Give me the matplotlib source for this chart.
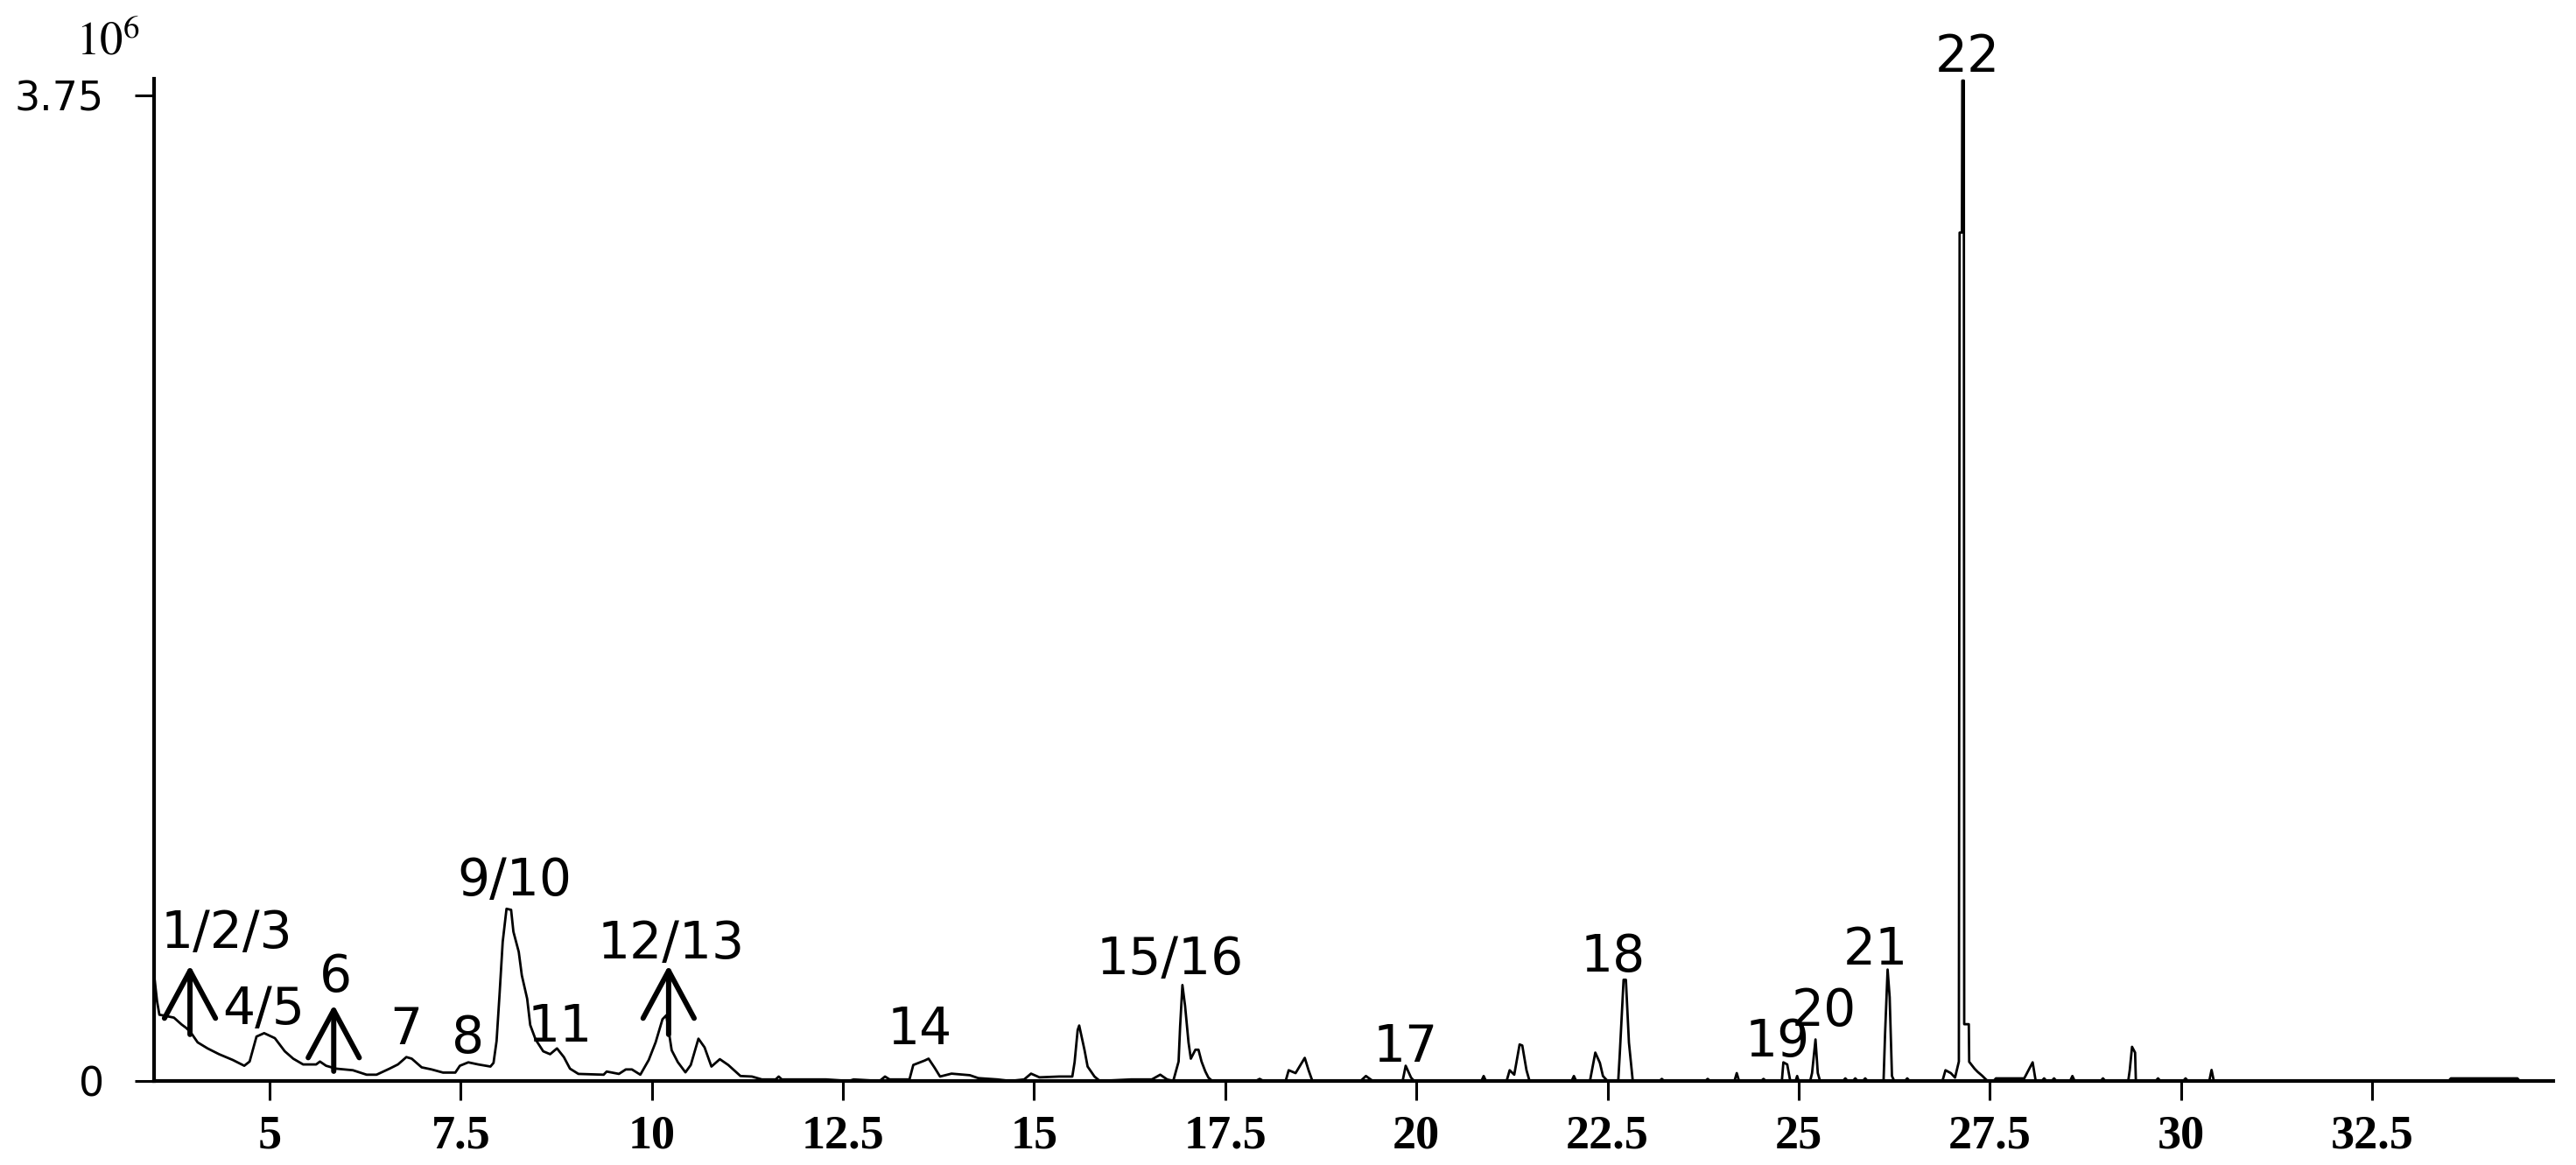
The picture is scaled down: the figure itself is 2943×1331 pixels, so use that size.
import numpy as np
import matplotlib
matplotlib.use("Agg")
import matplotlib.pyplot as plt

plt.rcParams["mathtext.fontset"] = "stix"

# chromatogram trace, (retention time in min, abundance in 1e6)
trace_early = [
    (3.50, 0.380), (3.53, 0.302), (3.56, 0.252), (3.60, 0.250), (3.75, 0.241),
    (3.85, 0.215), (3.91, 0.202), (3.97, 0.185), (4.06, 0.147), (4.19, 0.124),
    (4.34, 0.102), (4.52, 0.080), (4.67, 0.058), (4.74, 0.074), (4.83, 0.169),
    (4.93, 0.182), (5.07, 0.163), (5.20, 0.113), (5.31, 0.085), (5.44, 0.063),
    (5.61, 0.063), (5.66, 0.074), (5.74, 0.058), (5.87, 0.047), (6.09, 0.041),
    (6.27, 0.024), (6.40, 0.024), (6.57, 0.047), (6.68, 0.063), (6.79, 0.091),
    (6.86, 0.085), (6.99, 0.052), (7.12, 0.044), (7.27, 0.032), (7.43, 0.032),
    (7.49, 0.058), (7.60, 0.071), (7.73, 0.063), (7.89, 0.055), (7.93, 0.069),
    (7.97, 0.152), (8.01, 0.335), (8.05, 0.529), (8.10, 0.655), (8.16, 0.651),
    (8.19, 0.568), (8.26, 0.491), (8.30, 0.402), (8.37, 0.313), (8.41, 0.213),
    (8.48, 0.158), (8.58, 0.113), (8.67, 0.102), (8.76, 0.124), (8.85, 0.091),
    (8.93, 0.047), (9.04, 0.027), (9.37, 0.024), (9.41, 0.036), (9.57, 0.027),
    (9.66, 0.044), (9.74, 0.044), (9.85, 0.024), (9.96, 0.080), (10.05, 0.147),
    (10.14, 0.235),
]
trace_mid = [
    (10.19, 0.250), (10.26, 0.117), (10.34, 0.072), (10.44, 0.033), (10.51, 0.061),
    (10.61, 0.161), (10.69, 0.128), (10.78, 0.055), (10.89, 0.083), (11.00, 0.061),
    (11.16, 0.019), (11.31, 0.017), (11.44, 0.006), (11.62, 0.006), (11.66, 0.017),
    (11.70, 0.006), (12.28, 0.006), (12.58, 0.0), (12.64, 0.006), (12.98, 0.0),
    (13.05, 0.017), (13.11, 0.006), (13.37, 0.006), (13.42, 0.061), (13.57, 0.078),
    (13.62, 0.085), (13.70, 0.050), (13.77, 0.017), (13.92, 0.028), (14.16, 0.022),
    (14.27, 0.011), (14.52, 0.006), (14.69, 0.0), (14.87, 0.006), (14.96, 0.028),
    (15.07, 0.014), (15.33, 0.017), (15.50, 0.017), (15.53, 0.072), (15.57, 0.194),
    (15.59, 0.211), (15.66, 0.117), (15.70, 0.055), (15.79, 0.017), (15.86, 0.0),
    (16.27, 0.006), (16.54, 0.006), (16.65, 0.024), (16.74, 0.006),
]
trace_late = [
    (16.82, 0.0), (16.89, 0.074), (16.91, 0.208), (16.94, 0.365), (16.975, 0.285),
    (17.02, 0.146), (17.05, 0.085), (17.11, 0.119), (17.15, 0.119), (17.19, 0.074),
    (17.24, 0.036), (17.28, 0.013), (17.33, 0.0), (17.90, 0.0), (17.95, 0.008),
    (18.00, 0.0), (18.29, 0.0), (18.33, 0.041), (18.42, 0.030), (18.54, 0.088),
    (18.59, 0.041), (18.64, 0.0), (19.27, 0.0), (19.34, 0.019), (19.43, 0.0),
    (19.82, 0.0), (19.86, 0.058), (19.93, 0.013), (19.97, 0.0), (20.85, 0.0),
    (20.88, 0.019), (20.91, 0.0), (21.18, 0.0), (21.22, 0.041), (21.28, 0.024),
    (21.35, 0.139), (21.385, 0.135), (21.44, 0.041), (21.48, 0.0), (22.03, 0.0),
    (22.06, 0.019), (22.09, 0.0), (22.27, 0.0), (22.34, 0.108), (22.40, 0.069),
    (22.44, 0.019), (22.50, 0.0), (22.64, 0.0), (22.66, 0.102), (22.71, 0.385),
    (22.74, 0.385), (22.78, 0.146), (22.83, 0.0),
]
trace_main = [
    (23.18, 0.0), (23.21, 0.008), (23.24, 0.0), (23.78, 0.0), (23.81, 0.008),
    (23.84, 0.0), (24.16, 0.0), (24.19, 0.030), (24.22, 0.0), (24.51, 0.0),
    (24.54, 0.008), (24.57, 0.0), (24.78, 0.0), (24.80, 0.071), (24.85, 0.063),
    (24.89, 0.0), (24.96, 0.0), (24.98, 0.019), (25.00, 0.0), (25.15, 0.0),
    (25.175, 0.030), (25.22, 0.158), (25.25, 0.030), (25.28, 0.0), (25.58, 0.0),
    (25.61, 0.010), (25.64, 0.0), (25.71, 0.0), (25.74, 0.010), (25.77, 0.0),
    (25.84, 0.0), (25.87, 0.010), (25.90, 0.0), (26.11, 0.0), (26.13, 0.180),
    (26.163, 0.424), (26.19, 0.319), (26.22, 0.019), (26.25, 0.0), (26.39, 0.0),
    (26.42, 0.010), (26.45, 0.0), (26.88, 0.0), (26.92, 0.041), (26.99, 0.030),
    (27.045, 0.013), (27.095, 0.074), (27.105, 3.227), (27.135, 3.227), (27.14, 3.805),
    (27.16, 3.805), (27.165, 0.216), (27.225, 0.216), (27.23, 0.073), (27.30, 0.047),
    (27.34, 0.035), (27.40, 0.020), (27.47, 0.0),
]
trace_tail = [
    (27.55, 0.0), (27.58, 0.010), (27.95, 0.010), (28.06, 0.071), (28.10, 0.0),
    (28.18, 0.0), (28.21, 0.010), (28.24, 0.0), (28.31, 0.0), (28.34, 0.010),
    (28.37, 0.0), (28.55, 0.0), (28.58, 0.019), (28.61, 0.0), (28.95, 0.0),
    (28.98, 0.010), (29.01, 0.0), (29.31, 0.0), (29.33, 0.041), (29.36, 0.130),
    (29.40, 0.108), (29.41, 0.0), (29.67, 0.0), (29.70, 0.010), (29.73, 0.0),
    (30.03, 0.0), (30.06, 0.010), (30.09, 0.0), (30.37, 0.0), (30.40, 0.042),
    (30.43, 0.0), (33.50, 0.0), (33.53, 0.010), (34.40, 0.010), (34.43, 0.0),
]

# peak labels: text, retention time, baseline height
peak_names = ["1/2/3", "4/5", "6", "7", "8", "9/10", "11", "12/13", "14",
              "15/16", "17", "18", "19", "20", "21", "22"]
peak_rt = [4.44, 4.92, 5.87, 6.79, 7.60, 8.21, 8.80, 10.25, 13.50,
           16.78, 19.86, 22.57, 24.72, 25.33, 26.01, 27.21]
peak_text_y = [0.506, 0.216, 0.34, 0.14, 0.107, 0.706, 0.15, 0.466, 0.14,
               0.406, 0.073, 0.416, 0.093, 0.21, 0.443, 3.84]

# arrows: retention time, tail height, tip height
arrow_rt = [3.96, 5.84, 10.22]
arrow_tail = [0.177, 0.037, 0.177]
arrow_tip = [0.44, 0.29, 0.44]

x_ticks = [5, 7.5, 10, 12.5, 15, 17.5, 20, 22.5, 25, 27.5, 30, 32.5]
x_tick_labels = ["5", "7.5", "10", "12.5", "15", "17.5", "20", "22.5",
                 "25", "27.5", "30", "32.5"]
y_ticks = [0, 3.75]
y_tick_labels = ["0", "3.75"]

pts = np.array(trace_early + trace_mid + trace_late + trace_main + trace_tail)
rt, abund = pts[:, 0], pts[:, 1]

fig = plt.figure(figsize=(29.43, 13.31), dpi=100)
ax = fig.add_axes([0.0598, 0.0721, 0.9314, 0.8603])

ax.plot(rt, abund, color="black", lw=2.0, clip_on=False)

ax.set_xlim(3.49, 34.87)
ax.set_ylim(0, 3.812)
for side in ["top", "right"]:
    ax.spines[side].set_visible(False)
for side in ["left", "bottom"]:
    ax.spines[side].set_linewidth(3)

ax.set_xticks(x_ticks)
ax.set_xticklabels(x_tick_labels, fontfamily="Liberation Serif",
                   fontweight="bold", fontsize=39)
ax.set_yticks(y_ticks)
ax.set_yticklabels(y_tick_labels, fontfamily="DejaVu Sans", fontsize=33)
ax.tick_params(axis="x", direction="out", length=16, width=2.2, pad=12)
ax.tick_params(axis="y", direction="out", length=16, width=2.2, pad=25)

fig.text(0.0296, 0.953, r"$\mathrm{10}^{6}$", fontsize=38)

for name, t, y in zip(peak_names, peak_rt, peak_text_y):
    ax.text(t, y, name, ha="center", va="baseline", fontsize=42,
            fontfamily="DejaVu Sans", clip_on=False)

for t, y0, y1 in zip(arrow_rt, arrow_tail, arrow_tip):
    ax.annotate("", xy=(t, y1), xytext=(t, y0),
                arrowprops=dict(arrowstyle="->,head_length=39,head_width=21",
                                lw=4.3, color="black", shrinkA=0, shrinkB=0,
                                mutation_scale=1))

fig.savefig("out.png", dpi=100)
